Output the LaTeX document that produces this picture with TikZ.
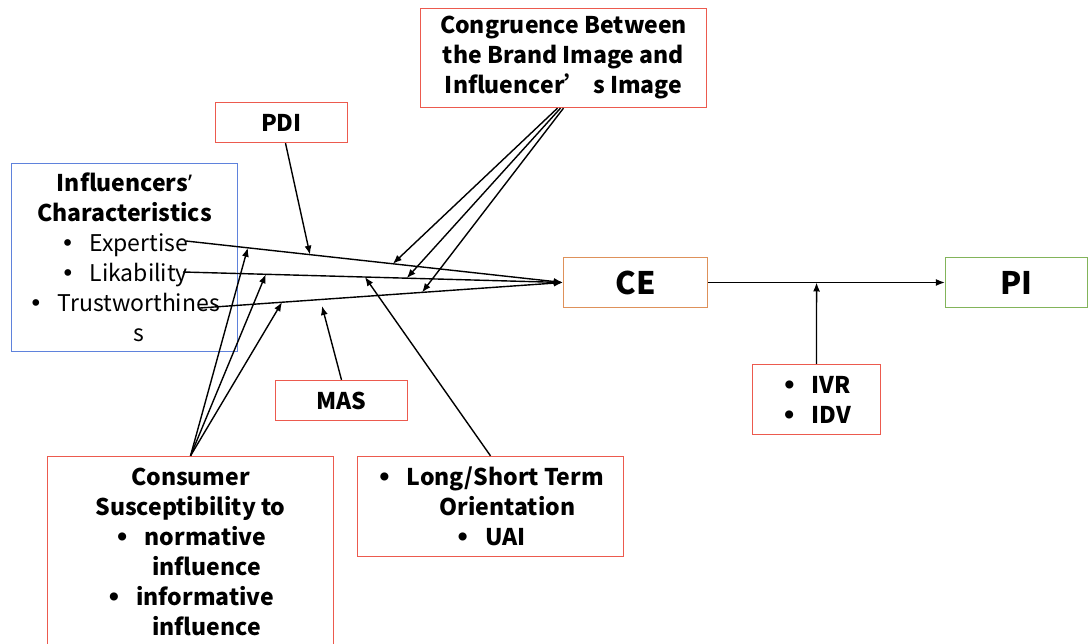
\documentclass[tikz,border=0pt]{standalone}
\usepackage{fontspec}
\setmainfont{Noto Sans CJK SC}
\newfontfamily\latfont{Noto Sans}
\newfontfamily\bulfont{DejaVu Sans}
\usetikzlibrary{arrows.meta}
\definecolor{boxred}{RGB}{236,90,78}
\definecolor{boxblue}{RGB}{95,130,220}
\definecolor{boxtan}{RGB}{222,145,90}
\definecolor{boxgreen}{RGB}{130,180,90}
\newcommand{\bul}{{\bulfont •}\hspace{15pt}}

\begin{document}
\begin{tikzpicture}[x=1pt, y=-1pt,
  box/.style={draw=boxred, line width=1.3pt, inner sep=0pt, align=center, font=\fontsize{23}{30}\selectfont\bfseries},
  arr/.style={line width=1.4pt, -{Latex[length=9pt,width=7pt]}}]
\useasboundingbox (0,0) rectangle (1088,644);
\node[box, minimum width=286pt, minimum height=99pt] (cong) at (563.5,58) {Congruence Between\\the Brand Image and\\Influencer’ s Image};
\node[box, minimum width=132pt, minimum height=40pt] (pdi) at (281.5,122.5) {PDI};
\node[box, draw=boxblue, minimum width=226pt, minimum height=188pt, font=\fontsize{23}{30}\selectfont] (infl) at (124.5,257.5)
  {{\bfseries Influencers{\latfont ’}}\\{\bfseries Characteristics}\\\bul Expertise\\\bul Likability\\\bul Trustworthines\\\hspace*{28pt}s};
\node[box, draw=boxtan, minimum width=144pt, minimum height=50pt, font=\fontsize{31}{30}\selectfont\bfseries] (ce) at (635.5,282.5) {CE};
\node[box, draw=boxgreen, minimum width=142pt, minimum height=50pt, font=\fontsize{31}{30}\selectfont\bfseries] (pi) at (1016.5,282.5) {PI};
\node[box, minimum width=128pt, minimum height=70pt] (ivr) at (816.5,399.5) {\bul IVR\\\bul IDV};
\node[box, minimum width=132pt, minimum height=40pt] (mas) at (341.5,400.5) {MAS};
\node[box, minimum width=286pt, minimum height=190pt] (cons) at (190.5,551.5)
  {Consumer\\Susceptibility to\\\bul normative\\\hspace*{32pt}influence\\\bul informative\\\hspace*{32pt}influence};
\node[box, minimum width=266pt, minimum height=100pt] (lto) at (490.5,506.5)
  {\bul Long/Short Term\\\hspace*{34pt}Orientation\\\bul UAI};
\coordinate (expt) at (186,241);
\coordinate (lika) at (183,272);
\coordinate (trus) at (200,308);
\coordinate (masend) at (322,306);
\draw[arr] (expt) -- coordinate[pos=0.164] (e1) coordinate[pos=0.329] (e2) coordinate[pos=0.549] (e3) (ce.west);
\draw[arr] (lika) -- coordinate[pos=0.218] (l1) coordinate[pos=0.479] (l2) coordinate[pos=0.589] (l3) (ce.west);
\draw[arr] (trus) -- coordinate[pos=0.226] (t1) coordinate[pos=0.612] (t3) (ce.west);
\draw[arr] (ce) -- coordinate[pos=0.458] (m1) (pi);
\draw[arr] ([xshift=4pt]pdi.south) -- (e2);
\draw[arr] ([xshift=-6pt]cong.south) -- (e3);
\draw[arr] ([xshift=-3pt]cong.south) -- (l3);
\draw[arr] (cong.south) -- (t3);
\draw[arr] (cons.north) -- (e1);
\draw[arr] (cons.north) -- (l1);
\draw[arr] (cons.north) -- (t1);
\draw[arr] (mas.north) -- (masend);
\draw[arr] (lto.north) -- (l2);
\draw[arr] (ivr.north) -- (m1);
\end{tikzpicture}
\end{document}
